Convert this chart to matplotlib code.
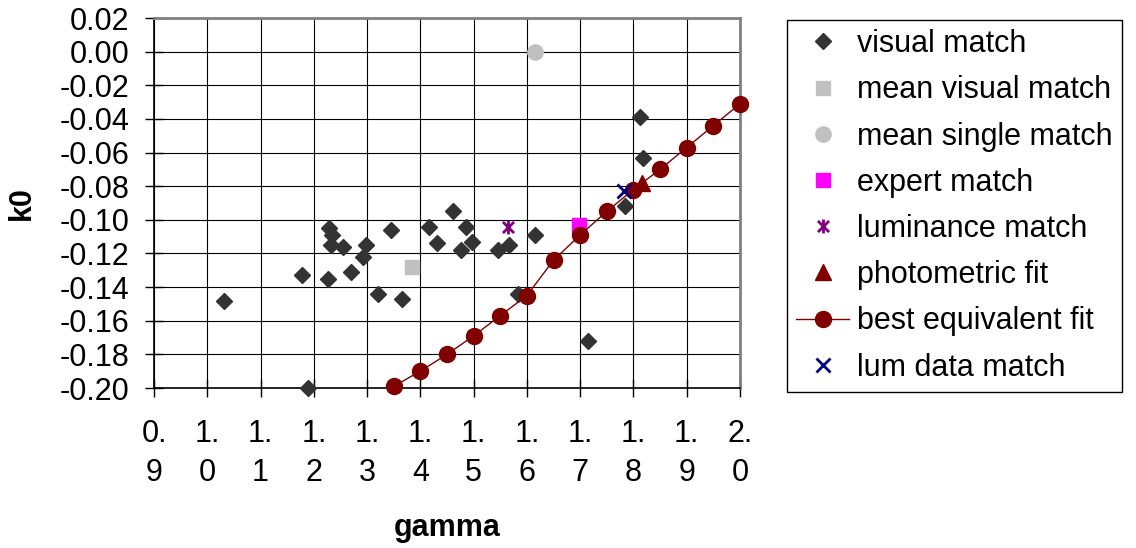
import matplotlib.pyplot as plt
from matplotlib.path import Path

plt.rcParams.update({
    "font.family": ["Liberation Sans", "DejaVu Sans"],
    "font.size": 22,
    "axes.unicode_minus": False,
})

# visual match (diamonds)
visual_x = [1.032, 1.177, 1.189, 1.229, 1.234, 1.232, 1.254, 1.226, 1.270, 1.293,
            1.298, 1.320, 1.345, 1.365, 1.416, 1.432, 1.461, 1.486, 1.476, 1.496,
            1.546, 1.566, 1.615, 1.584, 1.715, 1.784, 1.812, 1.818]
visual_y = [-0.148, -0.133, -0.200, -0.105, -0.109, -0.115, -0.116, -0.135, -0.131, -0.122,
            -0.115, -0.144, -0.106, -0.147, -0.104, -0.114, -0.095, -0.104, -0.118, -0.113,
            -0.118, -0.115, -0.109, -0.144, -0.172, -0.092, -0.039, -0.063]

mean_visual_x, mean_visual_y = [1.385], [-0.128]
mean_single_x, mean_single_y = [1.616], [0.000]
expert_x, expert_y = [1.698], [-0.103]
lum_match_x, lum_match_y = [1.565], [-0.104]
photometric_x, photometric_y = [1.816], [-0.078]
lum_data_x, lum_data_y = [1.782], [-0.083]

best_fit_x = [1.35, 1.40, 1.45, 1.50, 1.55, 1.60, 1.65, 1.70, 1.75, 1.80, 1.85, 1.90, 1.95, 2.00]
best_fit_y = [-0.199, -0.190, -0.180, -0.169, -0.157, -0.145, -0.124, -0.109, -0.095, -0.082,
              -0.070, -0.057, -0.044, -0.031]

x_ticks = [0.9, 1.0, 1.1, 1.2, 1.3, 1.4, 1.5, 1.6, 1.7, 1.8, 1.9, 2.0]
x_tick_labels = ["0.\n9", "1.\n0", "1.\n1", "1.\n2", "1.\n3", "1.\n4",
                 "1.\n5", "1.\n6", "1.\n7", "1.\n8", "1.\n9", "2.\n0"]
y_ticks = [-0.20, -0.18, -0.16, -0.14, -0.12, -0.10, -0.08, -0.06, -0.04, -0.02, 0.00, 0.02]

# Excel-style asterisk: x plus vertical bar
asterisk = Path([(0, -1), (0, 1), (-0.8, -0.8), (0.8, 0.8), (-0.8, 0.8), (0.8, -0.8)],
                [Path.MOVETO, Path.LINETO, Path.MOVETO, Path.LINETO, Path.MOVETO, Path.LINETO])

fig = plt.figure(figsize=(11.36, 5.48), dpi=100)
ax = fig.add_axes([154 / 1136, 1 - 388 / 548, (740 - 154) / 1136, (388 - 18) / 548])

kw = dict(linestyle="none", clip_on=False, zorder=3)
ax.plot(visual_x, visual_y, marker="D", ms=8, color="#333333", label="visual match", **kw)
ax.plot(mean_visual_x, mean_visual_y, marker="s", ms=10.5, color="#C0C0C0",
        label="mean visual match", **kw)
ax.plot(mean_single_x, mean_single_y, marker="o", ms=11, color="#C0C0C0",
        label="mean single match", **kw)
ax.plot(expert_x, expert_y, marker="s", ms=10.5, color="#FF00FF", label="expert match", **kw)
ax.plot(lum_match_x, lum_match_y, marker=asterisk, ms=10, mew=2, color="#800080",
        label="luminance match", **kw)
ax.plot(photometric_x, photometric_y, marker="^", ms=11, color="#800000",
        label="photometric fit", **kw)
ax.plot(best_fit_x, best_fit_y, marker="o", ms=11.5, color="#800000", lw=1,
        label="best equivalent fit", clip_on=False, zorder=3)
ax.plot(lum_data_x, lum_data_y, marker="x", ms=10, mew=2, color="#000080",
        label="lum data match", **kw)

ax.set_xlim(0.9, 2.0)
ax.set_ylim(-0.20, 0.02)
ax.set_xticks(x_ticks)
ax.set_xticklabels(x_tick_labels, linespacing=1.4)
ax.set_yticks(y_ticks)
ax.set_yticklabels([f"{v:.2f}" for v in y_ticks])
ax.tick_params(axis="y", direction="inout", length=13, width=1, pad=11.5)
ax.tick_params(axis="x", direction="inout", length=13, width=1, pad=16)

ax.grid(True, color="black", linewidth=0.8)
ax.set_axisbelow(True)
for side in ("top", "right"):
    ax.spines[side].set_color("#808080")
    ax.spines[side].set_linewidth(2)
for side in ("left", "bottom"):
    ax.spines[side].set_color("black")
    ax.spines[side].set_linewidth(1.2)

ax.set_xlabel("gamma", fontweight="bold", labelpad=18)
ax.set_ylabel("k0", fontweight="bold", labelpad=16)

leg = fig.legend(loc="upper left", bbox_to_anchor=(787 / 1136, 1 - 20 / 548),
                 frameon=True, fancybox=False, framealpha=1, edgecolor="black",
                 handlelength=1.74, handletextpad=0.26, labelspacing=0.53,
                 borderpad=0.3, borderaxespad=0)
leg.get_frame().set_linewidth(1)

fig.savefig("out.png", dpi=100)
